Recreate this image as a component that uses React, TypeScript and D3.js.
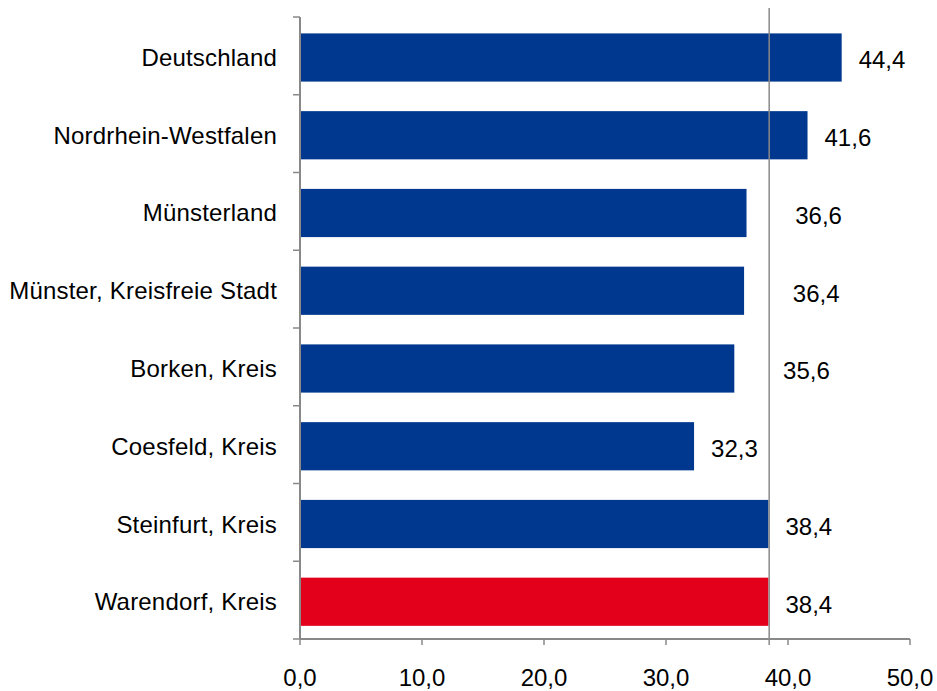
import React from "react";
import * as d3 from "d3";

const categories = [
  "Deutschland",
  "Nordrhein-Westfalen",
  "Münsterland",
  "Münster, Kreisfreie Stadt",
  "Borken, Kreis",
  "Coesfeld, Kreis",
  "Steinfurt, Kreis",
  "Warendorf, Kreis",
];
const values = [44.4, 41.6, 36.6, 36.4, 35.6, 32.3, 38.4, 38.4];
const highlight = ["Warendorf, Kreis"];
const referenceValue = 38.4;
const xTicks = [0, 10, 20, 30, 40, 50];

const W = 937;
const H = 691;
const BLUE = "#00388f";
const RED = "#e2001a";
const GRAY = "#898989";
const FONT = "'Liberation Sans', Arial, sans-serif";

export default function App() {
  const x = d3.scaleLinear().domain([0, 50]).range([300, 910]);
  const y = d3
    .scaleBand<string>()
    .domain(categories)
    .range([17, 639])
    .paddingInner(0.38)
    .paddingOuter(0.19)
    .align(0.555);
  const step = y.step();
  const [y0, y1] = y.range();
  const boundaries = d3.range(categories.length + 1).map((i) => y0 + i * step);
  const fmt = (v: number) => v.toFixed(1).replace(".", ",");
  const refX = x(referenceValue);

  const labelX = (v: number) => {
    const near = v < referenceValue && referenceValue - v < 3.5;
    return (near ? x(v + 2.6) : x(v)) + 17;
  };

  return (
    <svg
      width={W}
      height={H}
      style={{ position: "absolute", left: 0, top: 0, background: "#fff" }}
      fontFamily={FONT}
    >
      {/* bars */}
      {categories.map((c, i) => (
        <rect
          key={c}
          x={x(0)}
          y={y(c)!}
          width={x(values[i]) - x(0)}
          height={y.bandwidth()}
          fill={highlight.includes(c) ? RED : BLUE}
        />
      ))}
      {/* reference line */}
      <line x1={refX + 0.7} x2={refX + 0.7} y1={8} y2={y1 + 6} stroke={GRAY} strokeWidth={1.5} />
      {/* y axis */}
      <line x1={x(0)} x2={x(0)} y1={y0} y2={y1} stroke={GRAY} strokeWidth={2} />
      {boundaries.map((b, i) => (
        <line key={i} x1={x(0) - 7} x2={x(0)} y1={b} y2={b} stroke={GRAY} strokeWidth={1.5} />
      ))}
      {/* x axis */}
      <line x1={x(0)} x2={x(50)} y1={y1} y2={y1} stroke={GRAY} strokeWidth={2} />
      {xTicks.map((t) => (
        <g key={t}>
          <line x1={x(t)} x2={x(t)} y1={y1} y2={y1 + 6} stroke={GRAY} strokeWidth={1.5} />
          <text
            x={x(t)}
            y={677}
            textAnchor="middle"
            dominantBaseline="central"
            fontSize={24}
            fill="#000"
          >
            {fmt(t)}
          </text>
        </g>
      ))}
      {/* category labels */}
      {categories.map((c) => (
        <text
          key={c}
          x={277}
          y={y(c)! + y.bandwidth() / 2}
          textAnchor="end"
          dominantBaseline="central"
          fontSize={24}
          letterSpacing={0.2}
          fill="#000"
        >
          {c}
        </text>
      ))}
      {/* value labels */}
      {categories.map((c, i) => (
        <text
          key={c}
          x={labelX(values[i])}
          y={y(c)! + y.bandwidth() / 2 + 2.5}
          dominantBaseline="central"
          fontSize={24}
          fill="#000"
        >
          {fmt(values[i])}
        </text>
      ))}
    </svg>
  );
}
